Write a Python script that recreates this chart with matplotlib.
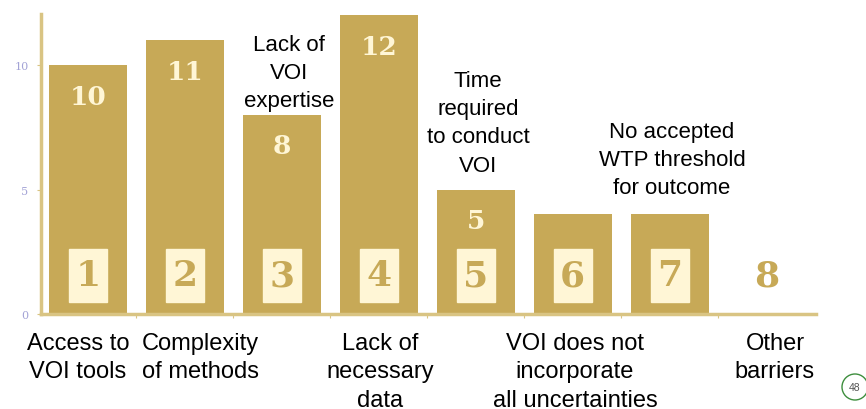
import matplotlib.pyplot as plt
from matplotlib.patches import Rectangle, Ellipse

# data
barrier_ids = [1, 2, 3, 4, 5, 6, 7, 8]
counts = [10, 11, 8, 12, 5, 4, 4, 0]
top_labels = ["Lack of\nVOI\nexpertise",
              "Time\nrequired\nto conduct\nVOI",
              "No accepted\nWTP threshold\nfor outcome"]
bottom_labels = ["Access to\nVOI tools",
                 "Complexity\nof methods",
                 "Lack of\nnecessary\ndata",
                 "VOI does not\nincorporate\nall uncertainties",
                 "Other\nbarriers"]
yticks = [0, 5, 10]

gold = "#C7A957"
axis_gold = "#D9C483"
cream = "#FFF6D6"
W, H = 866, 410

fig = plt.figure(figsize=(W / 100, H / 100), dpi=100)
ax = fig.add_axes([41 / W, 1 - 315 / H, (816 - 41) / W, 300 / H])

x = list(range(len(counts)))
ax.bar(x, counts, width=0.805, color=gold, zorder=2)
ax.set_xlim(-0.485, 7.51)
ax.set_ylim(0, 12.05)

for spine in ["top", "right"]:
    ax.spines[spine].set_visible(False)
for spine in ["left", "bottom"]:
    ax.spines[spine].set_color(axis_gold)
    ax.spines[spine].set_linewidth(2.5)

ax.set_yticks(yticks)
ax.set_yticklabels([str(t) for t in yticks], family="DejaVu Serif",
                   fontsize=8, color="#A3A3D6")
ax.tick_params(axis="y", length=3, color=axis_gold, pad=6)
ax.set_xticks([i + 0.5 for i in x[:-1]])
ax.set_xticklabels([])
ax.tick_params(axis="x", length=3, color=axis_gold)

for i, (bid, c) in enumerate(zip(barrier_ids, counts)):
    if c >= 5:
        ax.text(i, c - 1.25, str(c), ha="center", va="center",
                family="DejaVu Serif", fontweight="bold", fontsize=19,
                color=cream, zorder=3)
    if c > 0:
        ax.add_patch(Rectangle((i - 0.195, 0.5), 0.39, 2.12,
                               color=cream, zorder=3))
    ax.text(i, 1.55, str(bid), ha="center", va="center",
            family="DejaVu Serif", fontweight="bold", fontsize=26,
            color=gold, zorder=4)

# annotations (pixel positions of block tops)
text_kw = dict(ha="center", va="top", family="Liberation Sans",
               fontsize=16, linespacing=1.45, color="black")
for (px, py), label in zip([(289, 35), (478, 71), (672, 122)], top_labels):
    fig.text(px / W, 1 - py / H, label, **text_kw)
text_kw.update(fontsize=17, linespacing=1.37)
for px, label in zip([78, 200, 380, 575, 775], bottom_labels):
    fig.text(px / W, 1 - 333 / H, label, **text_kw)

# page number badge
fig.patches.append(Ellipse((855 / W, 1 - 388 / H), 26 / W, 26 / H,
                           transform=fig.transFigure, fill=False,
                           edgecolor="#3E8E3E", linewidth=1))
fig.text(855 / W, 1 - 388 / H, "48", ha="center", va="center",
         family="Liberation Sans", fontsize=7.5, color="#555555")

fig.savefig("out.png", dpi=100)
